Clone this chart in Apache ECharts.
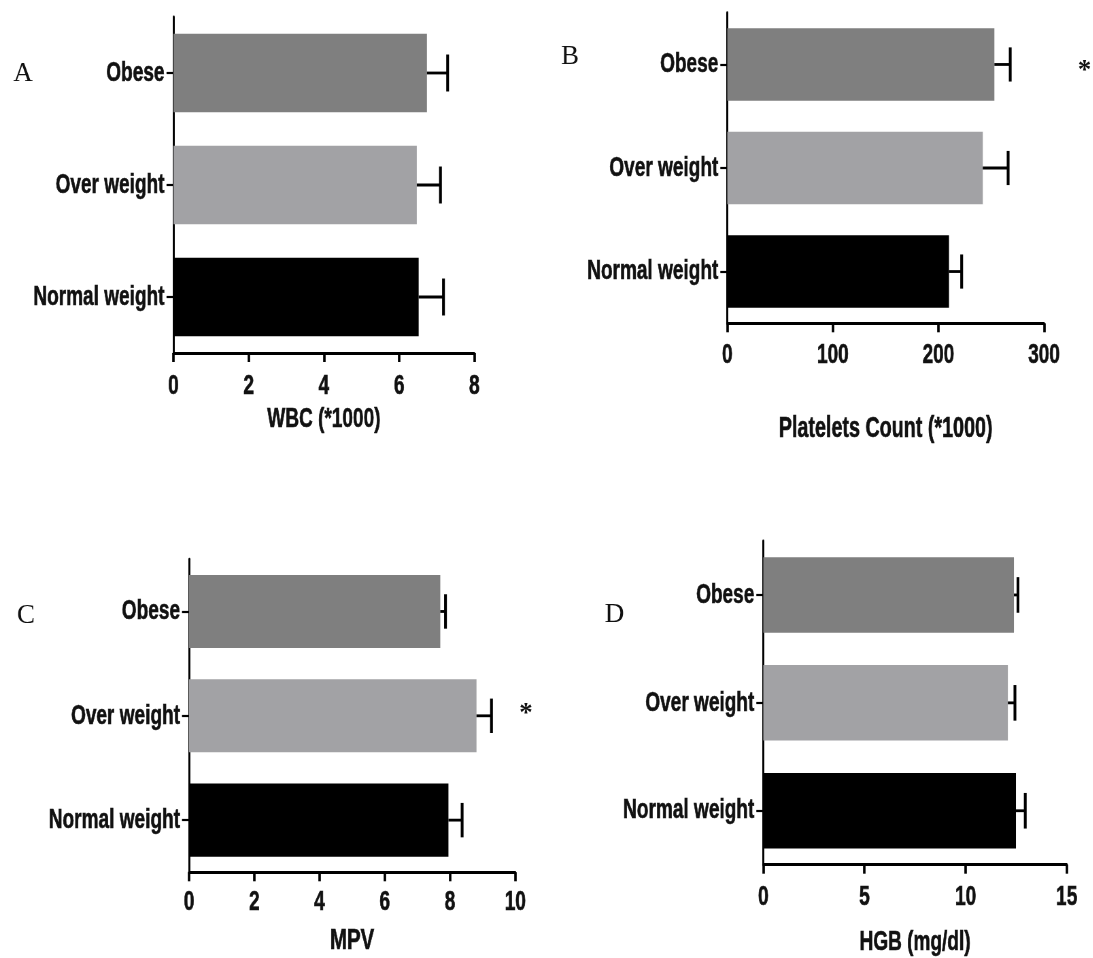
<!DOCTYPE html>
<html>
<head>
<meta charset="utf-8">
<script src="https://cdn.jsdelivr.net/npm/echarts@6/dist/echarts.min.js"></script>
<style>
  html, body { margin: 0; padding: 0; background: #fff; overflow: hidden; }
  #chart { height: 958px; transform-origin: 0 0; }
</style>
</head>
<body>
<div id="chart"></div>
<script>
// Groups shown top to bottom in every panel
const categories = ['Obese', 'Over weight', 'Normal weight'];

// Means and SEM per group
const wbcMean = [6.74, 6.47, 6.52];
const wbcSem = [0.55, 0.63, 0.66];
const plateletMean = [253, 242, 210];
const plateletSem = [15, 24, 12];
const mpvMean = [7.70, 8.81, 7.95];
const mpvSem = [0.16, 0.46, 0.42];
const hgbMean = [12.39, 12.09, 12.49];
const hgbSem = [0.20, 0.35, 0.46];

// Value-axis ticks
const wbcTicks = [0, 2, 4, 6, 8];
const plateletTicks = [0, 100, 200, 300];
const mpvTicks = [0, 2, 4, 6, 8, 10];
const hgbTicks = [0, 5, 10, 15];

const axisTitles = ['WBC (*1000)', 'Platelets Count (*1000)', 'MPV', 'HGB (mg/dl)'];
const panelLetters = ['A', 'B', 'C', 'D'];

// The figure uses tall, narrow lettering: draw the page wider and squeeze it horizontally.
const K = 0.68;
const W = 1093;
const sx = v => v / K;

const barColors = ['#7f7f7f', '#a2a2a5', '#000000'];
const SANS = '"Liberation Sans", Arial, Helvetica, sans-serif';
const SERIF = '"Liberation Serif", "Times New Roman", serif';
const INK = '#111';

const panels = [
  { mean: wbcMean, sem: wbcSem, ticks: wbcTicks, title: axisTitles[0],
    box: { left: 173.5, top: 17, width: 300.8, height: 336 }, labelMargin: 19.5, nameGap: 52, nameSize: 28 },
  { mean: plateletMean, sem: plateletSem, ticks: plateletTicks, title: axisTitles[1],
    box: { left: 727.3, top: 12.7, width: 316.7, height: 310.6 }, labelMargin: 17.7, nameGap: 91, nameSize: 29 },
  { mean: mpvMean, sem: mpvSem, ticks: mpvTicks, title: axisTitles[2],
    box: { left: 189, top: 559.3, width: 326.3, height: 313 }, labelMargin: 16, nameGap: 53, nameSize: 30 },
  { mean: hgbMean, sem: hgbSem, ticks: hgbTicks, title: axisTitles[3],
    box: { left: 763.3, top: 541, width: 303.4, height: 326.3 }, labelMargin: 18.7, nameGap: 64, nameSize: 28 }
];

const letterPos = [[23, 74], [570, 56.5], [26, 615.5], [614.5, 614.5]];
// significance marks: x, y
const starMarks = [[1084.5, 71.5], [526, 714]];

const el = document.getElementById('chart');
el.style.width = sx(W) + 'px';
el.style.transform = 'scaleX(' + K + ')';

function renderErrorBar(params, api) {
  const start = api.coord([api.value(0), api.value(1)]);
  const end = api.coord([api.value(2), api.value(1)]);
  const half = api.size([0, 1])[1] * 0.165;
  return {
    type: 'group',
    children: [
      { type: 'line', shape: { x1: start[0], y1: start[1], x2: end[0], y2: end[1] },
        style: { stroke: '#000', lineWidth: 2.8 } },
      { type: 'line', shape: { x1: end[0], y1: end[1] - half, x2: end[0], y2: end[1] + half },
        style: { stroke: '#000', lineWidth: 2.8 / K } }
    ]
  };
}

const labelFont = {
  color: INK, fontFamily: SANS, fontWeight: 'bold', fontSize: 28,
  textBorderColor: INK, textBorderWidth: 0.6
};

const grid = [], xAxis = [], yAxis = [], series = [];
panels.forEach((p, i) => {
  grid.push({ left: sx(p.box.left), top: p.box.top, width: sx(p.box.width), height: p.box.height, containLabel: false });
  xAxis.push({
    type: 'value', gridIndex: i,
    min: p.ticks[0], max: p.ticks[p.ticks.length - 1], interval: p.ticks[1] - p.ticks[0],
    axisLine: { show: true, onZero: false, lineStyle: { color: '#000', width: 3 } },
    axisTick: { show: true, length: 9, lineStyle: { color: '#000', width: 2.5 / K } },
    splitLine: { show: false },
    axisLabel: Object.assign({ margin: p.labelMargin }, labelFont),
    name: p.title, nameLocation: 'middle', nameGap: p.nameGap,
    nameTextStyle: Object.assign({}, labelFont, { fontSize: p.nameSize })
  });
  yAxis.push({
    type: 'category', gridIndex: i, data: categories, inverse: true,
    axisLine: { show: true, lineStyle: { color: '#000', width: 2 / K } },
    axisTick: { show: true, alignWithLabel: true, length: sx(7), lineStyle: { color: '#000', width: 2.2 } },
    splitLine: { show: false },
    axisLabel: Object.assign({ margin: sx(9) }, labelFont)
  });
  series.push({
    type: 'bar', xAxisIndex: i, yAxisIndex: i, barCategoryGap: '30%',
    data: p.mean.map((v, j) => ({ value: v, itemStyle: { color: barColors[j] } })),
    silent: true
  });
  series.push({
    type: 'custom', xAxisIndex: i, yAxisIndex: i, z: 5, silent: true,
    renderItem: renderErrorBar,
    encode: { x: [0, 2], y: 1 },
    data: p.mean.map((v, j) => [v, j, v + p.sem[j]])
  });
});

const graphic = [];
panelLetters.forEach((t, i) => {
  graphic.push({
    type: 'text', x: sx(letterPos[i][0]), y: letterPos[i][1], scaleX: 1 / K,
    style: { text: t, font: '27px ' + SERIF, fill: INK, textAlign: 'center', textVerticalAlign: 'middle' }
  });
});
starMarks.forEach(m => {
  graphic.push({
    type: 'text', x: sx(m[0]), y: m[1], scaleX: 1 / K,
    style: { text: '*', font: 'bold 27px ' + SERIF, fill: INK, textAlign: 'center', textVerticalAlign: 'middle' }
  });
});

const chart = echarts.init(el, null, { renderer: 'canvas' });
chart.setOption({
  animation: false,
  backgroundColor: '#fff',
  grid, xAxis, yAxis, series, graphic
});
</script>
</body>
</html>
